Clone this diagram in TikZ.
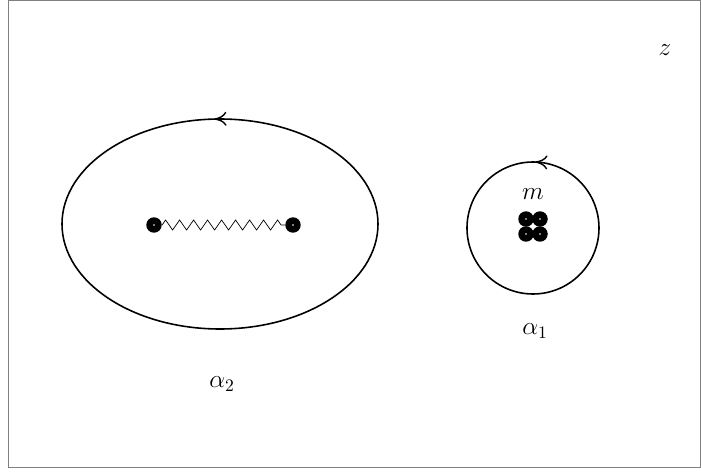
\documentclass[tikz,border=0pt]{standalone}
\usetikzlibrary{arrows.meta,decorations.pathmorphing,decorations.markings}
\begin{document}
\begin{tikzpicture}[x=0.02cm, y=0.02cm, every node/.style={font=\Large},
  >={Computer Modern Rightarrow[length=7pt, width=8pt, line width=0.8pt]},
  pole/.style={circle, fill=black, inner sep=0pt, minimum size=0.31cm,
    path picture={\fill[white] (path picture bounding box.center) circle (0.45pt);}},
  contour/.style={line width=0.9pt, postaction={decorate}}]
  \useasboundingbox (0,0) rectangle (701,471);
  % frame
  \draw[gray, line width=0.5pt] (8,4) rectangle (700,471);
  % contour alpha_2 round the cut
  \draw[contour, decoration={markings, mark=at position 0.257 with {\arrow{>}}}]
    (220,247) ellipse (158 and 105);
  \node[pole] (p1) at (154,246) {};
  \node[pole] (p2) at (293,246) {};
  \draw[decorate, decoration={zigzag, segment length=0.28cm, amplitude=0.1cm}] (p1) -- (p2);
  % contour alpha_1 round the poles
  \draw[contour, decoration={markings, mark=at position 0.245 with {\arrow{>}}}]
    (533,243) circle (66);
  \node[pole] (q1) at (526,252) {};
  \node[pole] (q2) at (540,252) {};
  \node[pole] (q3) at (526,237) {};
  \node[pole] (q4) at (540,237) {};
  % labels
  \node (m) at (533,277) {$m$};
  \node (a1) at (535,140) {$\alpha_1$};
  \node (a2) at (222,87) {$\alpha_2$};
  \node (z) at (665,421) {$z$};
\end{tikzpicture}
\end{document}
